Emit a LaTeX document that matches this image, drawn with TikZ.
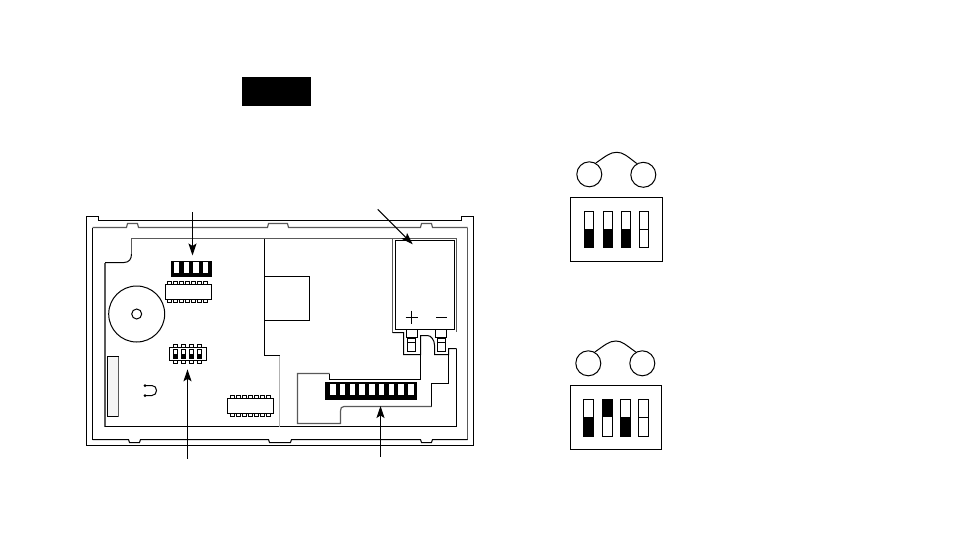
\documentclass[tikz,border=0pt]{standalone}
\usetikzlibrary{arrows.meta, positioning}

\tikzset{
    outline/.style={draw=black, line width=1pt},
    thinline/.style={draw=black, line width=1pt},
    grayline/.style={draw=black!65, line width=1.2pt},
    lightline/.style={draw=black!30, line width=1pt},
    solid black/.style={fill=black, draw=black, line width=0.5pt},
    pointer/.style={-{Stealth[length=12pt, width=8pt, inset=2.5pt]}, line width=1pt},
}

\begin{document}
\begin{tikzpicture}[x=1pt, y=-1pt, line join=miter]
        \useasboundingbox (0,0) rectangle (954,551);

        % Black label
        \fill[black] (242,77) rectangle (311,106);

        % Housing
        \draw[outline] (86.5,445.5) -- (86.5,216.5) -- (98.5,216.5) -- (98.5,220.5) -- (461.5,220.5)
            -- (461.5,216.5) -- (473.5,216.5) -- (473.5,445.5) -- cycle;
        \draw[grayline] (92.5,227.5) -- (126.5,227.5) -- (127.5,223.5) -- (137.5,223.5) -- (138.5,227.5)
            -- (267.5,227.5) -- (268.5,223.5) -- (287.5,223.5) -- (288.5,227.5) -- (420.5,227.5)
            -- (421.5,223.5) -- (431.5,223.5) -- (432.5,227.5) -- (467.5,227.5);
        \draw[thinline] (92.5,227.5) -- (92.5,439.5);
        \draw[grayline] (467.5,227.5) -- (467.5,439.5);
        \draw[outline] (92.5,439.5) -- (128.5,439.5) -- (129.5,442.5) -- (139.5,442.5) -- (140.5,439.5)
            -- (268.5,439.5) -- (269.5,442.5) -- (290.5,442.5) -- (291.5,439.5) -- (420.5,439.5)
            -- (421.5,442.5) -- (431.5,442.5) -- (432.5,439.5) -- (467.5,439.5);

        % Circuit board
        \draw[grayline] (105,426.5) -- (105,262.5);
        \draw[outline] (105,262.5) -- (124,262.5) .. controls (129,262.5) and (131.5,259) .. (131.5,254);
        \draw[grayline] (131.5,254) -- (131.5,238.5) -- (392.5,238.5);
        \draw[outline] (105,426.5) -- (456.5,426.5);
        \draw[thinline] (456.5,426.5) -- (456.5,348.5);
        \draw[thinline] (264.5,238.5) -- (264.5,355.5) -- (279.5,355.5);
        \draw[lightline] (279.5,355.5) -- (279.5,426.5);
        \draw[outline] (264.5,276.5) -- (309.5,276.5) -- (309.5,320.5) -- (264.5,320.5);

        % Battery
        \draw[grayline] (392.5,332.5) -- (392.5,238.5) -- (456.5,238.5) -- (456.5,332);
        \draw[outline] (395.5,329.5) -- (395.5,240.5) -- (454.5,240.5) -- (454.5,329.5) -- cycle;
        \draw[thinline] (411.5,310.5) -- (411.5,323.5) (405.5,317.5) -- (418,317.5);
        \draw[thinline] (436,317.5) -- (446.7,317.5);
        \foreach \tx/\ty in {406.5/417.5, 435.5/446.5} {
            \draw[thinline] (\tx,329.5) -- (\tx,337.5) -- (\ty,337.5) -- (\ty,329.5);
        }
        \draw[thinline] (407.5,338) rectangle (415.5,351.5);
        \draw[thinline] (437.5,338) rectangle (445.5,351.5);
        \draw[thinline] (407.5,342.5) -- (415.5,342.5) (437.5,342.5) -- (445.5,342.5);

        % Trace around the battery terminals
        \draw[thinline] (392.5,332.5) -- (403.5,332.5) -- (403.5,354.5) -- (420.5,354.5) -- (420.5,335.5) -- (427.5,335.5)
            .. controls (431,335.5) and (434.5,340) .. (434.5,345) -- (434.5,354.5) -- (448.5,354.5)
            -- (448.5,348.5) -- (456.5,348.5);
        \draw[thinline] (448.5,348.5) -- (448.5,383.5) -- (431.5,383.5) -- (431.5,406.5);
        \draw[grayline] (431.5,406.5) -- (344,406.5) .. controls (341.5,406.5) and (340.5,408) .. (340.5,411) -- (340.5,423.5) -- (297.5,423.5)
            -- (297.5,373.5) -- (329.5,373.5);
        \draw[thinline] (329.5,373.5) -- (329.5,379.5) -- (420.5,379.5) -- (420.5,354.5);

        % Connector strip
        \fill[solid black] (325,382.7) rectangle (416.7,399.7);
        \foreach \i in {0,...,8} {
            \fill[white] (330+\i*9.75,384) rectangle (335.6+\i*9.75,395);
        }

        % Upper switch block
        \fill[solid black] (171,261) rectangle (211,276.7);
        \foreach \sx in {173.7,183.6,193.3,202.8} {
            \fill[white] (\sx,262.3) rectangle (\sx+5.4,273.3);
        }

        % Chips
        \draw[outline] (165.5,284.5) rectangle (211.5,299.5);
        \draw[outline] (227.5,398.5) rectangle (273.5,413.5);
        \foreach \i in {0,...,6} {
            \draw[thinline] (167.5+\i*6,284.5) -- (167.5+\i*6,281.5) -- (171.5+\i*6,281.5) -- (171.5+\i*6,284.5);
            \draw[thinline] (167.5+\i*6,299.5) -- (167.5+\i*6,302.5) -- (171.5+\i*6,302.5) -- (171.5+\i*6,299.5);
            \draw[thinline] (230.5+\i*6,398.5) -- (230.5+\i*6,395.5) -- (234.5+\i*6,395.5) -- (234.5+\i*6,398.5);
            \draw[thinline] (230.5+\i*6,413.5) -- (230.5+\i*6,416.5) -- (234.5+\i*6,416.5) -- (234.5+\i*6,413.5);
        }

        % Buzzer
        \draw[thinline] (136.7,314) circle[radius=28pt];
        \draw[thinline] (136.7,314) circle[radius=5pt];

        % Small switch block
        \draw[outline] (169.5,347.5) rectangle (206.5,360.5);
        \foreach \sx in {173.5,181.5,189.5,197.5} {
            \draw[thinline] (\sx,347.5) -- (\sx,344.5) -- (\sx+4,344.5) -- (\sx+4,347.5);
            \draw[thinline] (\sx,360.5) -- (\sx,363.5) -- (\sx+4,363.5) -- (\sx+4,360.5);
            \draw[thinline] (\sx,349.5) rectangle (\sx+4,358.5);
            \fill[black] (\sx,353.5) rectangle (\sx+4,358.5);
        }

        % Edge strip and jumper
        \draw[thinline, fill=black!4] (107.5,356.5) rectangle (118.5,416.5);
        \draw[grayline] (118.5,356.5) -- (118.5,416.5);
        \fill (145,385.5) circle[radius=1.5pt] (145,395.5) circle[radius=1.5pt];
        \draw[thinline] (145,385.5) -- (152,385.5) .. controls (158,385.5) and (158,395.5) .. (152,395.5) -- (145,395.5);

        % Pointers
        \coordinate (topStart) at (192.5,212);
        \coordinate (topEnd) at (192.5,255.5);
        \coordinate (batStart) at (377.7,209.3);
        \coordinate (batEnd) at (412.7,244.3);
        \coordinate (dipStart) at (187.5,458.5);
        \coordinate (dipEnd) at (187.5,369.3);
        \coordinate (stripStart) at (380.5,456.7);
        \coordinate (stripEnd) at (380.5,406);
        \draw[pointer] (topStart) -- (topEnd);
        \draw[pointer] (batStart) -- (batEnd);
        \draw[pointer] (dipStart) -- (dipEnd);
        \draw[pointer] (stripStart) -- (stripEnd);

        % Upper setting
        \node[draw, circle, line width=1pt, inner sep=0pt, minimum size=25pt] (leftA) at (589.3,174.3) {};
        \node[draw, circle, line width=1pt, inner sep=0pt, minimum size=25pt] (rightA) at (643.3,174.8) {};
        \draw[line width=1pt] (leftA.60) .. controls (606,156) and (610,152.3) .. (616.7,152.3)
            .. controls (623,152.3) and (627,156) .. (rightA.120);
        \draw[outline] (570.5,197.5) rectangle (662.5,261.5);
        \foreach \sx in {584.5,603.5,621.5,639.5} {
            \draw[outline] (\sx,211.5) rectangle (\sx+9,247.5);
        }
        \foreach \sx in {584.5,603.5,621.5} {
            \fill[black] (\sx,229) rectangle (\sx+9,247.5);
        }
        \draw[thinline] (639.5,229.5) -- (648.5,229.5);

        % Lower setting
        \node[draw, circle, line width=1pt, inner sep=0pt, minimum size=25pt] (leftB) at (588.3,363.3) {};
        \node[draw, circle, line width=1pt, inner sep=0pt, minimum size=25pt] (rightB) at (642.3,363.3) {};
        \draw[line width=1pt] (leftB.60) .. controls (605,345) and (609,341) .. (616,341)
            .. controls (622,341) and (626,345) .. (rightB.120);
        \draw[outline] (570.5,385.5) rectangle (661.5,449.5);
        \foreach \sx in {583.5,602.5,620.5,638.5} {
            \draw[outline] (\sx,399.5) rectangle (\sx+10,436.5);
        }
        \fill[black] (583.5,417) rectangle (593.5,436.5);
        \fill[black] (602.5,399.5) rectangle (612.5,417);
        \fill[black] (620.5,417) rectangle (630.5,436.5);
        \draw[thinline] (638.5,417.5) -- (648.5,417.5);
    \end{tikzpicture}
\end{document}
